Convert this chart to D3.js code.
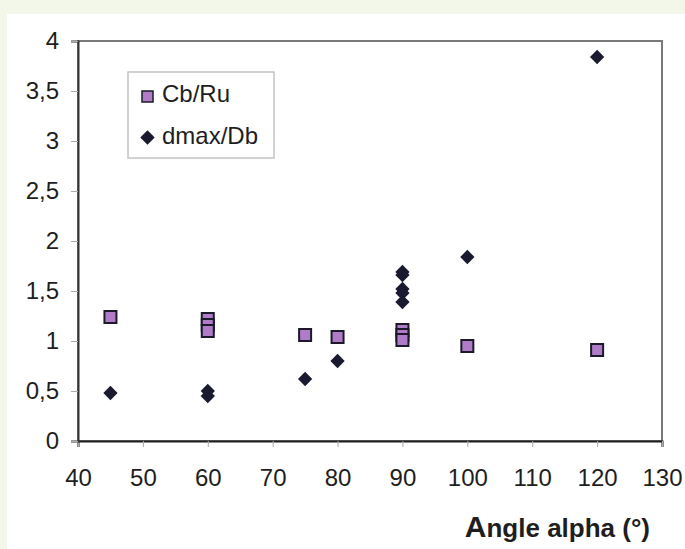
<!DOCTYPE html>
<html>
<head>
<meta charset="utf-8">
<script src="https://cdn.jsdelivr.net/npm/d3@7"></script>
<style>
  body { margin: 0; background: #f3f7e9; }
  svg { display: block; }
</style>
</head>
<body>
<div id="chart"></div>
<script>
// Cb/Ru (squares) and dmax/Db (diamonds) vs angle alpha
const cbAngles = [45, 60, 60, 60, 75, 80, 90, 90, 90, 100, 120];
const cbValues = [1.24, 1.22, 1.16, 1.10, 1.06, 1.04, 1.11, 1.06, 1.01, 0.95, 0.91];
const dmAngles = [45, 60, 60, 75, 80, 90, 90, 90, 90, 90, 100, 120];
const dmValues = [0.48, 0.50, 0.45, 0.62, 0.80, 1.69, 1.66, 1.52, 1.48, 1.39, 1.84, 3.84];
const xTicks = [40, 50, 60, 70, 80, 90, 100, 110, 120, 130];
const yTicks = [0, 0.5, 1, 1.5, 2, 2.5, 3, 3.5, 4];

(function () {
  const width = 685;
  const height = 549;
  const plot = { left: 78, top: 41, right: 662, bottom: 441 };
  const font = "'Liberation Sans', Arial, sans-serif";

  const svg = d3
    .select("#chart")
    .append("svg")
    .attr("width", width)
    .attr("height", height)
    .style("font-family", font);

  // white panel
  svg.append("rect")
    .attr("x", 7).attr("y", 14)
    .attr("width", width - 7).attr("height", height - 14)
    .attr("fill", "#ffffff");

  const x = d3.scaleLinear().domain([40, 130]).range([plot.left, plot.right]);
  const y = d3.scaleLinear().domain([0, 4]).range([plot.bottom, plot.top]);

  // frame (top/right grey)
  svg.append("rect")
    .attr("x", plot.left).attr("y", plot.top)
    .attr("width", plot.right - plot.left)
    .attr("height", plot.bottom - plot.top)
    .attr("fill", "none")
    .attr("stroke", "#7a7a7a")
    .attr("stroke-width", 2);

  // axes
  const xAxis = svg.append("g")
    .attr("transform", `translate(0,${plot.bottom})`)
    .call(d3.axisBottom(x).tickValues(xTicks).tickSize(6).tickPadding(22).tickFormat(d3.format("d")));
  xAxis.select(".domain").attr("stroke", "#1e1e1e").attr("stroke-width", 2);
  xAxis.selectAll(".tick line").attr("stroke", "#aaa");
  xAxis.selectAll(".tick text").attr("font-size", "24px").attr("fill", "#1e1e1e")
    .attr("font-family", font);

  const commaFmt = (d) => String(d).replace(".", ",");
  const yAxis = svg.append("g")
    .attr("transform", `translate(${plot.left},0)`)
    .call(d3.axisLeft(y).tickValues(yTicks).tickSize(7).tickPadding(12).tickFormat(commaFmt));
  yAxis.select(".domain").attr("stroke", "#333").attr("stroke-width", 2);
  yAxis.selectAll(".tick line").attr("stroke", "#aaa");
  yAxis.selectAll(".tick text").attr("font-size", "24px").attr("fill", "#1e1e1e")
    .attr("font-family", font).attr("dy", "0.3em");

  // squares
  const sq = 12;
  svg.append("g")
    .selectAll("rect")
    .data(cbAngles.map((a, i) => ({ a: a, v: cbValues[i] })))
    .enter()
    .append("rect")
    .attr("x", (d) => x(d.a) - sq / 2)
    .attr("y", (d) => y(d.v) - sq / 2)
    .attr("width", sq)
    .attr("height", sq)
    .attr("fill", "#b07cc8")
    .attr("stroke", "#1c1a2a")
    .attr("stroke-width", 2);

  // diamonds
  const diamond = d3.symbol().type(d3.symbolSquare).size(102);
  svg.append("g")
    .selectAll("path")
    .data(dmAngles.map((a, i) => ({ a: a, v: dmValues[i] })))
    .enter()
    .append("path")
    .attr("d", diamond)
    .attr("transform", (d) => `translate(${x(d.a)},${y(d.v)}) rotate(45)`)
    .attr("fill", "#191930");

  // legend
  const legend = svg.append("g").attr("transform", "translate(128,72)");
  legend.append("rect")
    .attr("width", 146).attr("height", 86)
    .attr("fill", "#fff")
    .attr("stroke", "#c4c4c4")
    .attr("stroke-width", 1.5);
  legend.append("rect")
    .attr("x", 14).attr("y", 19).attr("width", 11).attr("height", 11)
    .attr("fill", "#b07cc8").attr("stroke", "#1c1a2a").attr("stroke-width", 1.5);
  legend.append("text")
    .attr("x", 34).attr("y", 30)
    .attr("font-size", "24px").attr("fill", "#1e1e1e")
    .text("Cb/Ru");
  legend.append("path")
    .attr("d", d3.symbol().type(d3.symbolSquare).size(104))
    .attr("transform", "translate(19.5,65.5) rotate(45)")
    .attr("fill", "#191930");
  legend.append("text")
    .attr("x", 34).attr("y", 72)
    .attr("font-size", "24px").attr("fill", "#1e1e1e")
    .text("dmax/Db");

  // axis title
  const title = svg.append("text")
    .attr("x", 650).attr("y", 537)
    .attr("text-anchor", "end")
    .attr("font-size", "26px")
    .attr("font-weight", "bold")
    .attr("fill", "#1e1e1e")
    .attr("font-family", "'Liberation Sans Narrow', 'Liberation Sans', Arial, sans-serif");
  title.append("tspan").attr("font-size", "30px").text("A");
  title.append("tspan").text("ngle alpha (°)");
})();
</script>
</body>
</html>
